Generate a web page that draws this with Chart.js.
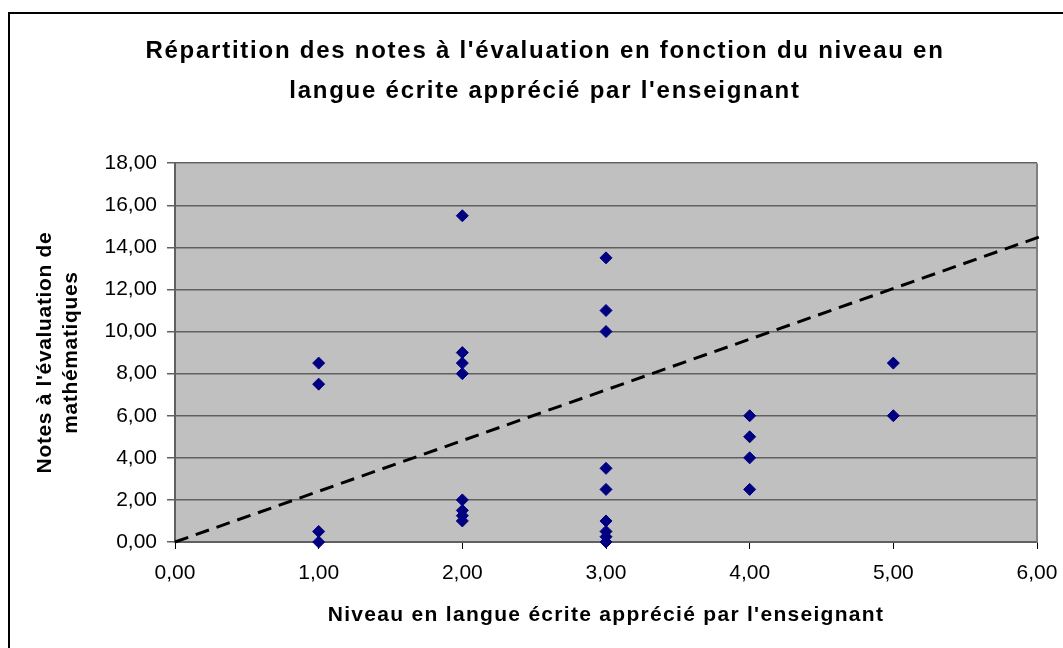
<!DOCTYPE html>
<html>
<head>
<meta charset="utf-8">
<script src="https://cdn.jsdelivr.net/npm/chart.js@4/dist/chart.umd.min.js"></script>
<style>
  html, body { margin: 0; padding: 0; background: #fff; }
  #wrap { width: 1063px; height: 648px; position: relative; }
</style>
</head>
<body>
<div id="wrap"><canvas id="Notes"></canvas></div>
<script>
// Niveau en langue écrite (x) et note de mathématiques (y) pour chaque élève
const niveauX = [1, 1, 1, 1,
  2, 2, 2, 2, 2, 2, 2, 2,
  3, 3, 3, 3, 3, 3, 3, 3, 3,
  4, 4, 4, 4,
  5, 5];
const notesY = [8.5, 7.5, 0.5, 0,
  15.5, 9, 8.5, 8, 2, 1.5, 1.25, 1,
  13.5, 11, 10, 3.5, 2.5, 1, 0.5, 0.25, 0,
  6, 5, 4, 2.5,
  8.5, 6];

// Courbe de tendance (extrémités)
const trendX = [0, 6.06];
const trendY = [0, 14.6];

const titleLines = [
  "Répartition des notes à l'évaluation en fonction du niveau en",
  "langue écrite apprécié par l'enseignant",
];
const xTitle = "Niveau en langue écrite apprécié par l'enseignant";
const yTitle = ["Notes à l'évaluation de", "mathématiques"];

const FONT = "'Liberation Sans', Arial, sans-serif";
const fmt = (v) => v.toFixed(2).replace(".", ",");

const canvas = document.getElementById("Notes");
const ctx2d = canvas.getContext("2d");

// les titres en gras sont un peu espacés dans l'original
const origFill = ctx2d.fillText;
ctx2d.fillText = function (text, x, y, maxW) {
  const prev = this.letterSpacing;
  if (this.font.indexOf("bold") === 0) {
    const m = this.getTransform();
    if (this.font.indexOf("24px") > 0) this.letterSpacing = "1.75px";
    else if (Math.abs(m.b) > 0.5) this.letterSpacing = "0.65px";
    else this.letterSpacing = "1.3px";
  }
  origFill.call(this, text, x, y, maxW);
  this.letterSpacing = prev;
};

// cadre extérieur + fond gris de la zone de tracé
const backdrop = {
  id: "backdrop",
  beforeDraw(chart) {
    const ctx = chart.ctx;
    const a = chart.chartArea;
    ctx.save();
    ctx.strokeStyle = "#000";
    ctx.lineWidth = 2;
    ctx.strokeRect(9, 13, 1200, 800);
    ctx.fillStyle = "#c0c0c0";
    ctx.fillRect(a.left, a.top, a.right - a.left, a.bottom - a.top);
    ctx.restore();
  },
  beforeDatasetsDraw(chart) {
    const ctx = chart.ctx;
    const a = chart.chartArea;
    ctx.save();
    ctx.strokeStyle = "#808080";
    ctx.lineWidth = 2;
    ctx.beginPath();
    ctx.moveTo(a.right, a.top);
    ctx.lineTo(a.right, a.bottom);
    ctx.stroke();
    ctx.restore();
  },
};

const pts = niveauX.map((x, i) => ({ x: x, y: notesY[i] }));
const trend = trendX.map((x, i) => ({ x: x, y: trendY[i] }));

new Chart(canvas, {
  type: "scatter",
  data: {
    datasets: [
      {
        label: "Tendance",
        data: trend,
        showLine: true,
        borderColor: "#000",
        borderWidth: 3,
        borderDash: [14, 8],
        pointRadius: 0,
        clip: false,
      },
      {
        label: "Notes",
        data: pts,
        pointStyle: "rectRot",
        pointRadius: 6,
        pointBackgroundColor: "#000080",
        pointBorderColor: "#000080",
        pointBorderWidth: 1,
        clip: false,
      },
    ],
  },
  options: {
    responsive: true,
    maintainAspectRatio: false,
    animation: false,
    layout: { padding: { left: 27, right: 0, top: 0, bottom: 0 } },
    plugins: {
      legend: { display: false },
      tooltip: { enabled: false },
      title: {
        display: true,
        text: titleLines,
        color: "#000",
        font: { family: FONT, size: 24, weight: "bold", lineHeight: 1.67 },
        padding: { top: 31, bottom: 52 },
      },
    },
    scales: {
      x: {
        type: "linear",
        min: 0,
        max: 6,
        afterFit: (s) => { s.height = 106; s.paddingRight = 26; },
        border: { display: true, color: "#606060", width: 2 },
        grid: { drawOnChartArea: false, drawTicks: true, tickLength: 7, color: "#000", tickWidth: 1 },
        ticks: {
          stepSize: 1,
          padding: 12,
          color: "#000",
          font: { family: FONT, size: 21 },
          maxRotation: 0,
          callback: (v) => fmt(v),
        },
        title: {
          display: true,
          text: xTitle,
          color: "#000",
          font: { family: FONT, size: 21, weight: "bold", lineHeight: 1.2 },
          padding: { top: 0, bottom: 20 },
        },
      },
      y: {
        type: "linear",
        min: 0,
        max: 18,
        afterFit: (s) => { s.width = 148; },
        border: { display: true, color: "#606060", width: 2 },
        grid: { color: "#606060", lineWidth: 1.5, tickLength: 8, drawTicks: true },
        ticks: {
          stepSize: 2,
          padding: 10,
          color: "#000",
          font: { family: FONT, size: 21 },
          callback: (v) => fmt(v),
        },
        title: {
          display: true,
          text: yTitle,
          color: "#000",
          font: { family: FONT, size: 21, weight: "bold", lineHeight: 1.25 },
          padding: { top: 5, bottom: 0 },
        },
      },
    },
  },
  plugins: [backdrop],
});
</script>
</body>
</html>
